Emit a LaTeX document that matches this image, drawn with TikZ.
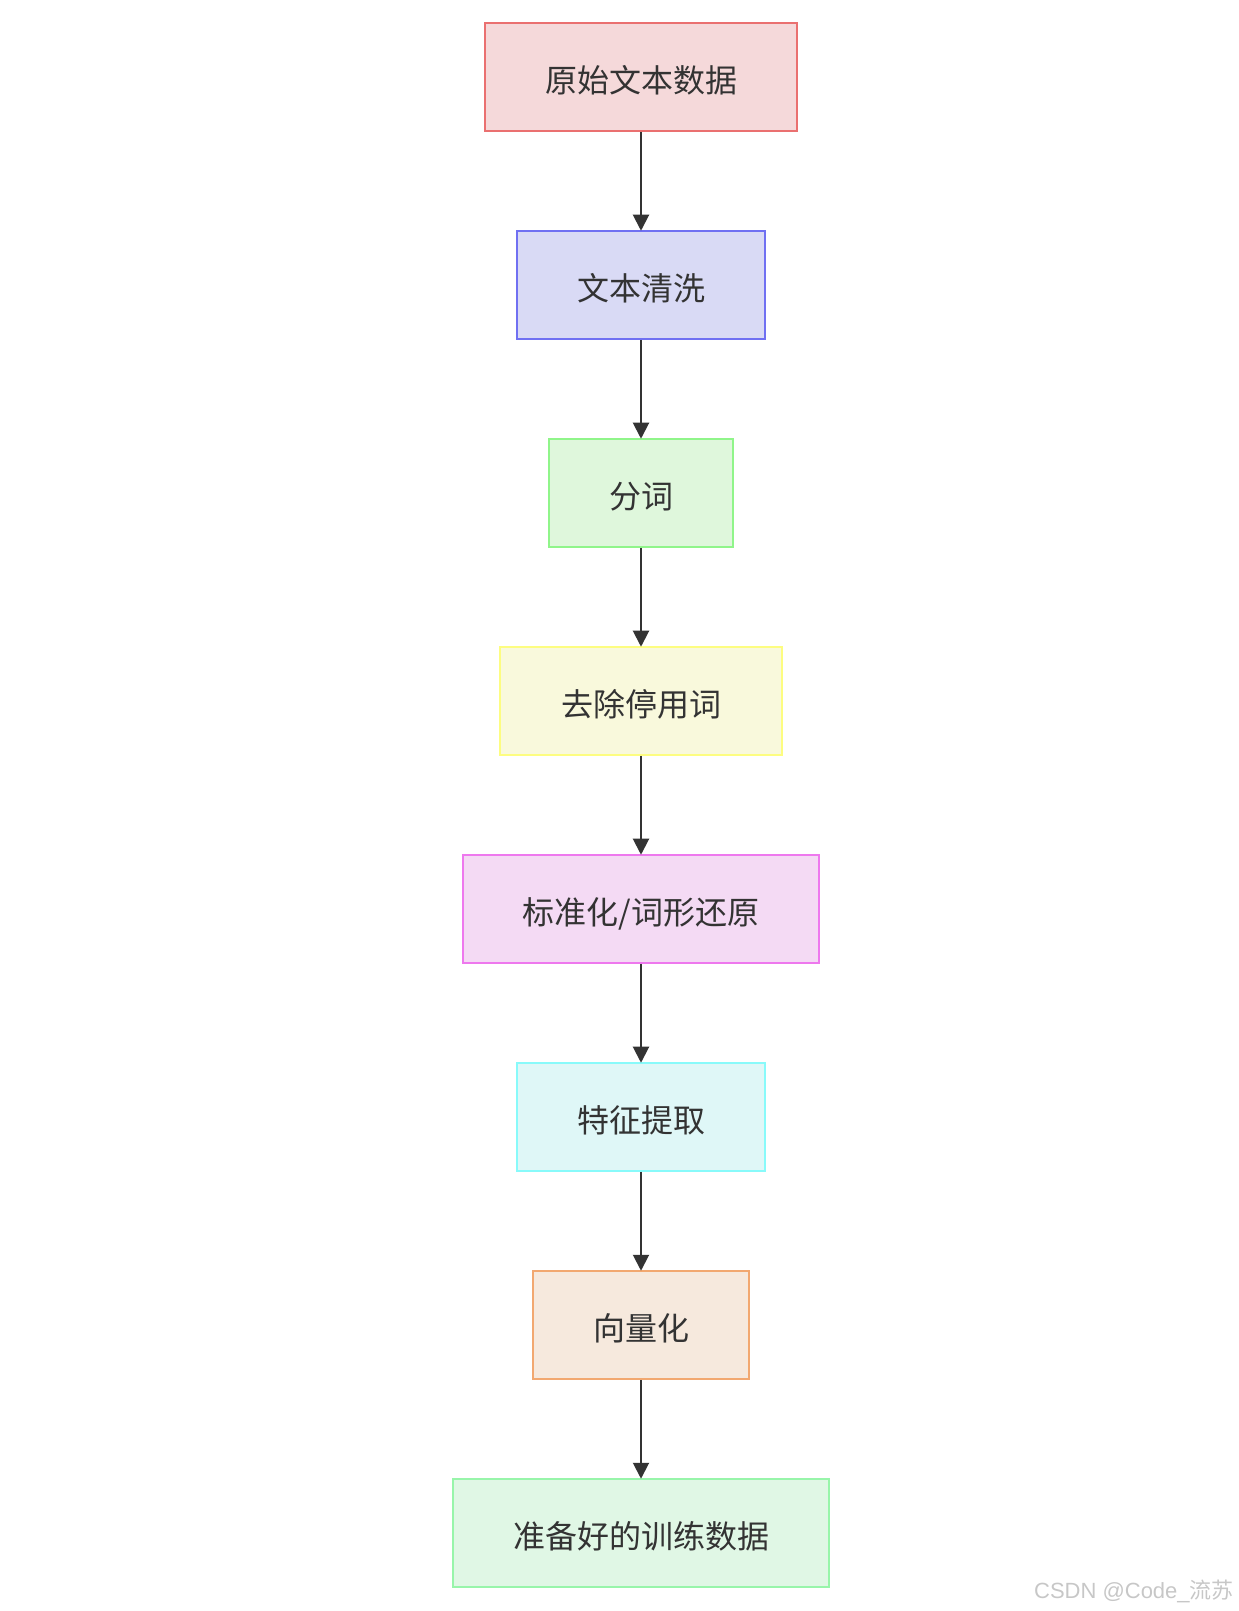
\documentclass[tikz,border=0pt]{standalone}
\usepackage{fontspec}
\setmainfont{Liberation Sans}
\newfontfamily\cjk{Noto Sans CJK SC}
\usetikzlibrary{arrows.meta}
\definecolor{txt}{HTML}{333333}
\definecolor{fA}{HTML}{F5D9DA}\definecolor{sA}{HTML}{EA7070}
\definecolor{fB}{HTML}{D9DAF5}\definecolor{sB}{HTML}{7070F2}
\definecolor{fC}{HTML}{DFF7DC}\definecolor{sC}{HTML}{90F58A}
\definecolor{fD}{HTML}{F9F9DC}\definecolor{sD}{HTML}{FDFD80}
\definecolor{fE}{HTML}{F4DAF4}\definecolor{sE}{HTML}{EE78EE}
\definecolor{fF}{HTML}{DFF7F7}\definecolor{sF}{HTML}{88FAFA}
\definecolor{fG}{HTML}{F6E9DD}\definecolor{sG}{HTML}{F2A870}
\definecolor{fH}{HTML}{E0F7E5}\definecolor{sH}{HTML}{98F5AA}
\tikzset{
  procbox/.style={draw=#1, line width=1.4pt, rectangle, inner sep=0pt,
    minimum height=81pt, text height=24.5pt, text depth=2pt,
    font=\cjk\fontsize{24}{28}\selectfont, text=txt},
  flow/.style={draw=txt, line width=1.5pt, -{Triangle[length=12pt,width=12pt]}, shorten >=-0.5pt},
}
\begin{document}
\begin{tikzpicture}[x=0.75pt,y=-0.75pt]
\useasboundingbox (0,0) rectangle (1239,1611);
\node[procbox=sA, fill=fA, minimum width=234pt] (n1) at (641,77) {原始文本数据};
\node[procbox=sB, fill=fB, minimum width=186.5pt] (n2) at (641,285) {文本清洗};
\node[procbox=sC, fill=fC, minimum width=138.5pt] (n3) at (641,493) {分词};
\node[procbox=sD, fill=fD, minimum width=211pt] (n4) at (641,701) {去除停用词};
\node[procbox=sE, fill=fE, minimum width=267pt] (n5) at (641,909) {标准化/词形还原};
\node[procbox=sF, fill=fF, minimum width=186.5pt] (n6) at (641,1117) {特征提取};
\node[procbox=sG, fill=fG, minimum width=162.5pt] (n7) at (641,1325) {向量化};
\node[procbox=sH, fill=fH, minimum width=282.5pt] (n8) at (641,1533) {准备好的训练数据};
\foreach \a/\b in {n1/n2,n2/n3,n3/n4,n4/n5,n5/n6,n6/n7,n7/n8}
  \draw[flow] (\a.south) -- (\b.north);
\node[anchor=base east, font=\fontsize{16.5}{18}\selectfont, text=black!22, inner sep=0pt] (wm) at (1234,1598) {CSDN @Code\_{\cjk 流苏}};
\end{tikzpicture}
\end{document}
